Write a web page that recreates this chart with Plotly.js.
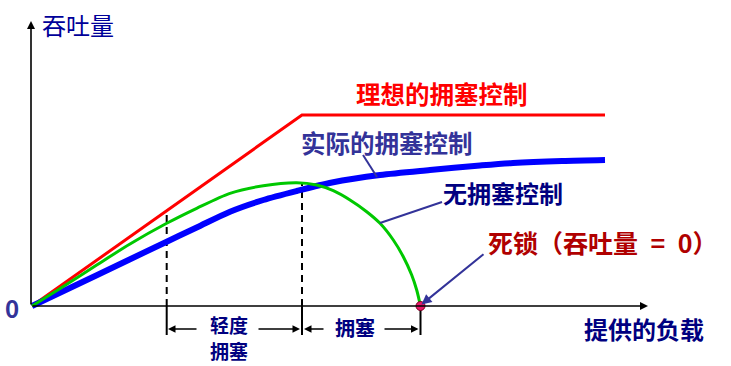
<!DOCTYPE html>
<html>
<head>
<meta charset="utf-8">
<script src="https://cdn.plot.ly/plotly-3.0.1.min.js"></script>
<style>html,body{margin:0;padding:0;background:#fff;}#chart{width:731px;height:366px;}</style>
</head>
<body>
<div id="chart"></div>
<script>
// ---- data (offered load on x, throughput on y) ----
const idealLoad = [0, 270, 573];
const idealThroughput = [0, 191, 191];

const actualLoad = [0, 64.7, 134.7, 164.7, 198, 231.3, 264.7, 300, 348, 398, 448, 481, 530, 573];
const actualThroughput = [0, 30.8, 64.3, 78.5, 94.3, 106, 115, 123.5, 131, 136, 140.5, 143, 145, 146];

const noCtrlLoad = [0, 31.3, 64.7, 98, 134.7, 164.7, 198, 231.3, 264.7, 284.7, 301.3, 318, 334.7, 348, 361.3, 371.3, 379.7, 384.7, 388.5];
const noCtrlThroughput = [0, 19.5, 41, 62, 82.7, 97.7, 112.7, 120.3, 123.3, 121, 115.3, 106, 94.3, 82.7, 66, 49.3, 31, 16, 0];

const boundaryLoad = [134.7, 270, 388.5];
const boundaryTop = [94, 123, 0];
const deadlockLoad = [388.5];
const deadlockThroughput = [0];

const labels = {
  yTitle: '吞吐量', xTitle: '提供的负载', origin: '0',
  ideal: '理想的拥塞控制', actual: '实际的拥塞控制', none: '无拥塞控制',
  deadlock: '死锁（吞吐量\u2002=\u20020）', light1: '轻度', light2: '拥塞', cong: '拥塞'
};

const CJK = '"Noto Sans CJK SC", "Noto Sans", sans-serif';
const traces = [];

// dashed boundary lines above axis
for (let i = 0; i < 2; i++) {
  traces.push({x: [boundaryLoad[i], boundaryLoad[i]], y: [0, boundaryTop[i]], mode: 'lines',
    line: {color: '#000', width: 2, dash: '7px,5px'}, hoverinfo: 'skip'});
}
// solid ticks below axis
for (let i = 0; i < 3; i++) {
  traces.push({x: [boundaryLoad[i], boundaryLoad[i]], y: [0, -29], mode: 'lines',
    line: {color: '#000', width: 2}, hoverinfo: 'skip'});
}

traces.push({x: idealLoad, y: idealThroughput, mode: 'lines', line: {color: '#ff0000', width: 3}});
traces.push({x: actualLoad, y: actualThroughput, mode: 'lines',
  line: {color: '#0000ff', width: 6, shape: 'spline', smoothing: 0.8}});
traces.push({x: noCtrlLoad, y: noCtrlThroughput, mode: 'lines',
  line: {color: '#00c800', width: 3, shape: 'spline', smoothing: 0.8}});
traces.push({x: deadlockLoad, y: deadlockThroughput, mode: 'markers',
  marker: {size: 9, color: '#e8186b', line: {color: '#7a0020', width: 1}}});

function arrow(x, y, ax, ay, color, width, head) {
  return {x: x, y: y, ax: ax, ay: ay, xref: 'x', yref: 'y', axref: 'x', ayref: 'y',
    text: '', showarrow: true, arrowhead: head, arrowsize: 1, arrowwidth: width,
    arrowcolor: color, standoff: 0, startstandoff: 0};
}
function label(text, x, y, size, color, weight, xanchor) {
  return {x: x, y: y, xref: 'x', yref: 'y', text: text, showarrow: false,
    xanchor: xanchor || 'center', yanchor: 'middle', borderpad: 0,
    font: {family: CJK, size: size, color: color, weight: weight}};
}

const annotations = [
  arrow(616, 0, -1, 0, '#000', 1.6, 2),
  arrow(-1, 285, -1, 0, '#000', 1.6, 2),
  arrow(136, -23, 166, -23, '#000', 1.5, 2),
  arrow(268, -23, 225, -23, '#000', 1.5, 2),
  arrow(272, -23, 293, -23, '#000', 1.5, 2),
  arrow(386.5, -23, 351, -23, '#000', 1.5, 2),
  arrow(389.5, 1.5, 453, 53, '#333399', 2, 2),
  label(labels.yTitle, 9, 282, 24, '#000099', 'normal', 'left'),
  label(labels.origin, -20, -1, 24, '#333399', 'bold'),
  label(labels.ideal, 410, 213, 24.5, '#ff0000', 'bold'),
  label(labels.actual, 355, 164, 24.5, '#333399', 'bold'),
  label(labels.none, 471, 114, 24, '#000080', 'bold'),
  label(labels.deadlock, 455, 64, 25, '#b00000', 'bold', 'left'),
  label(labels.xTitle, 612, -22, 24, '#000080', 'bold'),
  label(labels.light1, 197, -18, 19, '#000080', 'bold'),
  label(labels.light2, 197, -44, 19, '#000080', 'bold'),
  label(labels.cong, 323, -21, 20, '#000080', 'bold')
];

const shapes = [
  {type: 'line', xref: 'x', yref: 'y', x0: 331, y0: 151, x1: 345, y1: 129, line: {color: '#333399', width: 2}},
  {type: 'line', xref: 'x', yref: 'y', x0: 410, y0: 104, x1: 348, y1: 83, line: {color: '#333399', width: 2}}
];

const layout = {
  width: 731, height: 366,
  margin: {l: 0, r: 0, t: 0, b: 0, pad: 0},
  paper_bgcolor: '#fff', plot_bgcolor: '#fff',
  showlegend: false,
  xaxis: {range: [-32, 699], visible: false, fixedrange: true},
  yaxis: {range: [-60, 306], visible: false, fixedrange: true},
  annotations: annotations,
  shapes: shapes
};

Plotly.newPlot('chart', traces, layout, {staticPlot: true, displayModeBar: false});
</script>
</body>
</html>
